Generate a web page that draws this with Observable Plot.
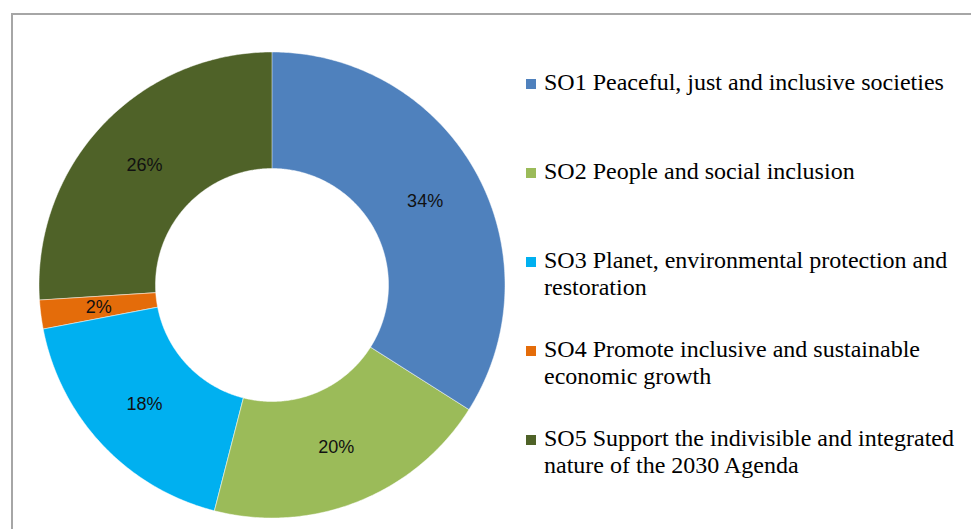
<!DOCTYPE html>
<html>
<head>
<meta charset="utf-8">
<script src="https://cdn.jsdelivr.net/npm/d3@7"></script>
<script src="https://cdn.jsdelivr.net/npm/@observablehq/plot@0.6"></script>
<style>
  html, body { margin: 0; padding: 0; background: #fff; overflow: hidden; }
  #wrap { position: relative; width: 971px; height: 529px; overflow: hidden; }
  #frame { position: absolute; left: 11px; top: 13px; width: 1100px; height: 700px;
           border-top: 2px solid #a6a6a6; border-left: 2px solid #a6a6a6; box-sizing: border-box; }
  #chart { position: absolute; left: 0; top: 0; }
  #legend { position: absolute; left: 544px; top: 69px; width: 425px;
            font-family: "Liberation Serif", "Times New Roman", serif; font-size: 24px;
            line-height: 27px; color: #000; }
  .item { position: relative; height: 89px; }
  .sw { position: absolute; left: -18px; top: 10px; width: 10px; height: 10px; }
</style>
</head>
<body>
<div id="wrap">
  <div id="frame"></div>
  <div id="chart"></div>
  <div id="legend"></div>
</div>
<script>
const categories = [
  "SO1 Peaceful, just and inclusive societies",
  "SO2 People and social inclusion",
  "SO3 Planet, environmental protection and restoration",
  "SO4 Promote inclusive and sustainable economic growth",
  "SO5 Support the indivisible and integrated nature of the 2030 Agenda"
];
const values = [34, 20, 18, 2, 26];
const labels = ["34%", "20%", "18%", "2%", "26%"];
const colors = ["#4F81BD", "#9BBB59", "#00B0F0", "#E46C0A", "#4F6228"];

const innerFrac = 0.5;
const total = d3.sum(values);
const pie = d3.pie().sort(null).value(d => d.value)(categories.map((c, i) => ({cat: c, value: values[i], label: labels[i]})));

// Build ring-slice polygons in unit coordinates (angle clockwise from top)
const pts = [];
pie.forEach(s => {
  const n = Math.max(4, Math.ceil((s.endAngle - s.startAngle) / 0.01));
  for (let k = 0; k <= n; k++) {
    const a = s.startAngle + (s.endAngle - s.startAngle) * k / n;
    pts.push({cat: s.data.cat, x: Math.sin(a), y: Math.cos(a)});
  }
  for (let k = n; k >= 0; k--) {
    const a = s.startAngle + (s.endAngle - s.startAngle) * k / n;
    pts.push({cat: s.data.cat, x: innerFrac * Math.sin(a), y: innerFrac * Math.cos(a)});
  }
});
const labelPts = pie.map(s => {
  const a = (s.startAngle + s.endAngle) / 2, r = (1 + innerFrac) / 2;
  return {cat: s.data.cat, label: s.data.label, x: r * Math.sin(a), y: r * Math.cos(a)};
});

const cx = 271.5, cy = 284.5, R = 233;
const plot = Plot.plot({
  width: 971, height: 529,
  margin: 0,
  x: {domain: [-1, 1], range: [cx - R, cx + R], axis: null},
  y: {domain: [-1, 1], range: [cy + R, cy - R], axis: null},
  color: {domain: categories, range: colors},
  style: {background: "transparent", overflow: "visible"},
  marks: [
    Plot.line(pts, {x: "x", y: "y", z: "cat", fill: "cat", stroke: "white", strokeWidth: 0.6, strokeOpacity: 0.8, curve: "linear-closed"}),
    Plot.text(labelPts, {x: "x", y: "y", text: "label", fill: "#111", fontSize: 18,
      fontFamily: "'Liberation Sans', Arial, sans-serif"})
  ]
});
document.getElementById("chart").appendChild(plot);

const legend = document.getElementById("legend");
categories.forEach((c, i) => {
  const item = document.createElement("div");
  item.className = "item";
  const sw = document.createElement("div");
  sw.className = "sw";
  sw.style.background = colors[i];
  item.appendChild(sw);
  const t = document.createElement("div");
  t.textContent = c;
  item.appendChild(t);
  legend.appendChild(item);
});
</script>
</body>
</html>
